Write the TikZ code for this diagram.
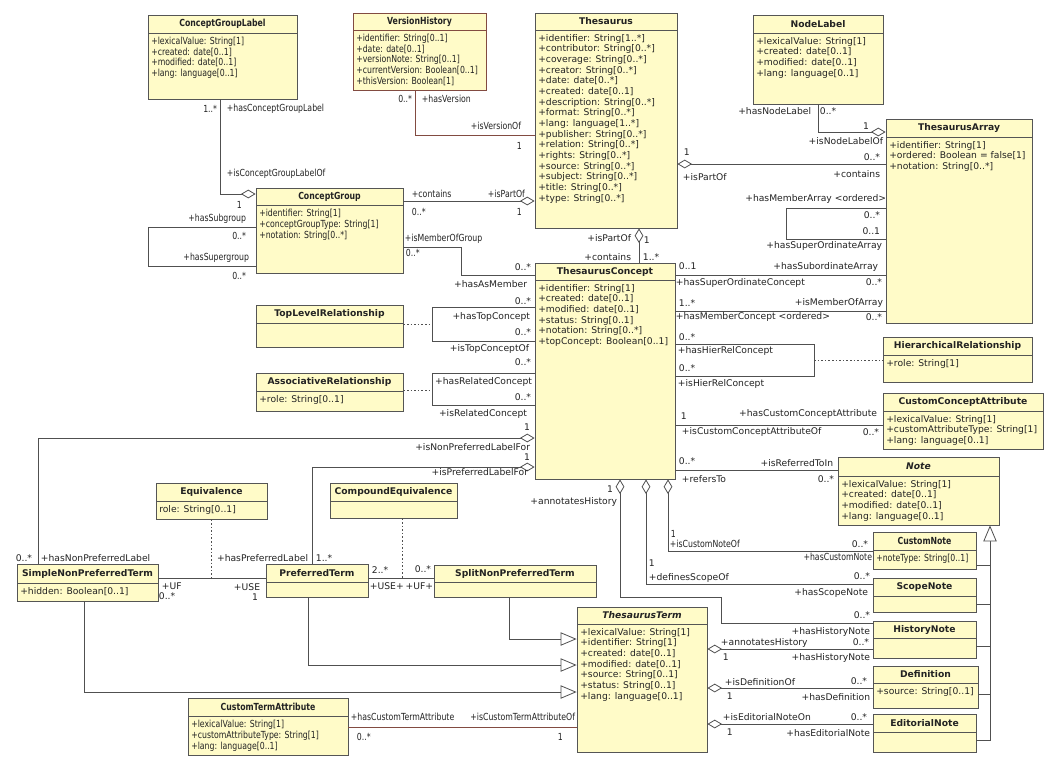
\documentclass[tikz,border=0pt]{standalone}
\usepackage{fontspec}
\setmainfont{DejaVu Sans}
\newfontfamily\cf[FakeStretch=0.8]{DejaVu Sans}
\usetikzlibrary{arrows.meta,fit}
\definecolor{yel}{RGB}{255,251,200}
\definecolor{bord}{RGB}{85,85,85}
\definecolor{brn}{RGB}{130,75,65}
\definecolor{txt}{RGB}{35,35,35}
\definecolor{lin}{RGB}{80,80,80}
\newcounter{lc}
\newcommand\regfonts{\def\ttlfont{\fontsize{6.9}{8}\selectfont\bfseries}\def\attrfont{\fontsize{6.9}{8}\selectfont}}
\newcommand\condfonts{\def\ttlfont{\cf\fontsize{7.3}{8}\selectfont\bfseries}\def\attrfont{\cf\fontsize{7.3}{8}\selectfont}}
\newcommand\umlbox[9]{%
  \node[box,#7,fit={(#2,#3) (#4,#5)}] (#1) {};
  \draw[boxline,#7] (#2,#6) -- (#4,#6);
  \node[ttl] (#1-t) at ({(#2+#4)/2},{(#3+#6)/2}) {#8};
  \node[attr] (#1-a) at ({#2+3},{#6+4}) {#9};
}
\newcommand\labW[3]{\stepcounter{lc}\node[lbl,anchor=west] (l\arabic{lc}) at (#1,#2) {#3};}
\newcommand\labE[3]{\stepcounter{lc}\node[lbl,anchor=east] (l\arabic{lc}) at (#1,#2) {#3};}
\newcommand\clabW[3]{\stepcounter{lc}\node[clbl,anchor=west] (l\arabic{lc}) at (#1,#2) {#3};}
\newcommand\clabE[3]{\stepcounter{lc}\node[clbl,anchor=east] (l\arabic{lc}) at (#1,#2) {#3};}
\begin{document}
\begin{tikzpicture}[x=0.75pt,y=-0.75pt,
  box/.style={draw=bord,fill=yel,line width=0.6pt,inner sep=0pt},
  boxline/.style={draw=bord,line width=0.6pt},
  ttl/.style={font=\ttlfont,text=txt,inner sep=0pt},
  attr/.style={font=\attrfont,text=txt,align=left,anchor=north west,inner sep=0pt},
  lbl/.style={font=\fontsize{6.9}{8}\selectfont,text=txt,inner sep=0.5pt},
  clbl/.style={font=\cf\fontsize{7.3}{8}\selectfont,text=txt,inner sep=0.5pt},
  assoc/.style={draw=lin,line width=0.6pt},
  assocb/.style={draw=brn,line width=0.6pt},
  dep/.style={draw=lin,line width=0.6pt,dash pattern=on 1.2pt off 1.5pt},
  agg/.style={assoc,-{Diamond[length=11pt,width=6.5pt,fill=white]}},
  aggs/.style={assoc,{Diamond[length=11pt,width=6.5pt,fill=white]}-},
  gen/.style={assoc,-{Triangle[length=12pt,width=10pt,fill=white]}}]
\useasboundingbox (0,0) rectangle (1056,764);
\fill[white] (0,0) rectangle (1056,764);
% ---------- classes ----------
\condfonts
\umlbox{cgl}{148}{15}{297}{99}{33}{}{ConceptGroupLabel}{+lexicalValue: String[1]\\+created: date[0..1]\\+modified: date[0..1]\\+lang: language[0..1]}
\umlbox{vh}{353}{13}{486}{90}{30}{draw=brn}{VersionHistory}{+identifier: String[0..1]\\+date: date[0..1]\\+versionNote: String[0..1]\\+currentVersion: Boolean[0..1]\\+thisVersion: Boolean[1]}
\umlbox{cg}{256}{188}{403}{273}{205}{}{ConceptGroup}{+identifier: String[1]\\+conceptGroupType: String[1]\\+notation: String[0..*]}
\umlbox{cta}{188}{698}{348}{755}{716}{}{CustomTermAttribute}{+lexicalValue: String[1]\\+customAttributeType: String[1]\\+lang: language[0..1]}
\umlbox{cn}{873}{532}{976}{569}{550}{}{CustomNote}{+noteType: String[0..1]}
\regfonts
\umlbox{th}{535}{13}{677}{228}{30}{}{Thesaurus}{+identifier: String[1..*]\\+contributor: String[0..*]\\+coverage: String[0..*]\\+creator: String[0..*]\\+date: date[0..*]\\+created: date[0..1]\\+description: String[0..*]\\+format: String[0..*]\\+lang: language[1..*]\\+publisher: String[0..*]\\+relation: String[0..*]\\+rights: String[0..*]\\+source: String[0..*]\\+subject: String[0..*]\\+title: String[0..*]\\+type: String[0..*]}
\umlbox{nl}{753}{15}{883}{104}{33}{}{NodeLabel}{+lexicalValue: String[1]\\+created: date[0..1]\\+modified: date[0..1]\\+lang: language[0..1]}
\umlbox{ta}{886}{119}{1032}{323}{137}{}{ThesaurusArray}{+identifier: String[1]\\+ordered: Boolean = false[1]\\+notation: String[0..*]}
\umlbox{tlr}{256}{305}{403}{347}{323}{}{TopLevelRelationship}{}
\umlbox{ar}{256}{373}{403}{411}{391}{}{AssociativeRelationship}{+role: String[0..1]}
\umlbox{tc}{535}{263}{675}{479}{280}{}{ThesaurusConcept}{+identifier: String[1]\\+created: date[0..1]\\+modified: date[0..1]\\+status: String[0..1]\\+notation: String[0..*]\\+topConcept: Boolean[0..1]}
\umlbox{hr}{883}{337}{1032}{382}{355}{}{HierarchicalRelationship}{+role: String[1]}
\umlbox{cca}{883}{393}{1043}{449}{411}{}{CustomConceptAttribute}{+lexicalValue: String[1]\\+customAttributeType: String[1]\\+lang: language[0..1]}
\umlbox{note}{838}{457}{999}{525}{476}{}{\itshape Note}{+lexicalValue: String[1]\\+created: date[0..1]\\+modified: date[0..1]\\+lang: language[0..1]}
\umlbox{sn}{873}{578}{976}{612}{596}{}{ScopeNote}{}
\umlbox{hn}{873}{621}{976}{658}{638}{}{HistoryNote}{}
\umlbox{def}{873}{666}{978}{708}{683}{}{Definition}{+source: String[0..1]}
\umlbox{en}{873}{714}{976}{752}{732}{}{EditorialNote}{}
\umlbox{tt}{577}{607}{707}{752}{624}{}{\itshape ThesaurusTerm}{+lexicalValue: String[1]\\+identifier: String[1]\\+created: date[0..1]\\+modified: date[0..1]\\+source: String[0..1]\\+status: String[0..1]\\+lang: language[0..1]}
\umlbox{split}{434}{565}{596}{597}{582}{}{SplitNonPreferredTerm}{}
\umlbox{pt}{266}{564}{368}{597}{582}{}{PreferredTerm}{}
\umlbox{snp}{17}{564}{158}{601}{583}{}{SimpleNonPreferredTerm}{+hidden: Boolean[0..1]}
\umlbox{eq}{156}{483}{267}{519}{501}{}{Equivalence}{role: String[0..1]}
\umlbox{ceq}{330}{483}{457}{518}{501}{}{CompoundEquivalence}{}
% ---------- connectors ----------
\draw[agg] (220,0 |- cgl.south) |- (cg.west |- 0,194);
\draw[assoc] (cg.west |- 0,227) -- (148,227) -- (148,266) -- (cg.west |- 0,266);
\draw[assocb] (415,0 |- vh.south) |- (th.west |- 0,135);
\draw[agg] (cg.east |- 0,201) -- (th.west |- 0,201);
\draw[assoc] (cg.east |- 0,247) -- (461,247) -- (461,275) -- (tc.west |- 0,275);
\draw[aggs] (639,0 |- th.south) -- (639,0 |- tc.north);
\draw[aggs] (th.east |- 0,164) -- (ta.west |- 0,164);
\draw[agg] (818,0 |- nl.south) |- (ta.west |- 0,132);
\draw[assoc] (ta.west |- 0,208) -- (786,208) -- (786,239) -- (ta.west |- 0,239);
\draw[assoc] (tc.east |- 0,275) -- (ta.west |- 0,275);
\draw[assoc] (tc.east |- 0,311) -- (ta.west |- 0,311);
\draw[assoc] (tc.east |- 0,344) -- (814,344) -- (814,376) -- (tc.east |- 0,376);
\draw[dep] (814,360) -- (hr.west |- 0,360);
\draw[assoc] (tc.east |- 0,425) -- (cca.west |- 0,425);
\draw[assoc] (tc.east |- 0,470) -- (note.west |- 0,470);
\draw[assoc] (tc.west |- 0,307) -- (432,307) -- (432,341) -- (tc.west |- 0,341);
\draw[dep] (tlr.east |- 0,324) -- (432,324);
\draw[assoc] (tc.west |- 0,373) -- (432,373) -- (432,405) -- (tc.west |- 0,405);
\draw[dep] (ar.east |- 0,390) -- (432,390);
\draw[agg] (38,0 |- snp.north) |- (tc.west |- 0,438);
\draw[agg] (312,0 |- pt.north) |- (tc.west |- 0,467);
\draw[assoc] (snp.east |- 0,578) -- (pt.west |- 0,578);
\draw[dep] (211,0 |- eq.south) -- (211,578);
\draw[assoc] (pt.east |- 0,578) -- (split.west |- 0,578);
\draw[dep] (402,0 |- ceq.south) -- (402,578);
\draw[gen] (509,0 |- split.south) |- (tt.west |- 0,639);
\draw[gen] (308,0 |- pt.south) |- (tt.west |- 0,665);
\draw[gen] (84,0 |- snp.south) |- (tt.west |- 0,692);
\draw[assocb] (cta.east |- 0,727) -- (tt.west |- 0,727);
\draw[aggs] (tt.east |- 0,649) -- (hn.west |- 0,649);
\draw[aggs] (tt.east |- 0,688) -- (def.west |- 0,688);
\draw[aggs] (tt.east |- 0,724) -- (en.west |- 0,724);
\draw[aggs] (620,0 |- tc.south) -- (620,597) -- (721,597) -- (721,623) -- (hn.west |- 0,623);
\draw[aggs] (646,0 |- tc.south) |- (sn.west |- 0,584);
\draw[aggs] (668,0 |- tc.south) |- (cn.west |- 0,551);
\draw[gen] (en.east |- 0,740) -- (990,740) -- (990,0 |- note.south);
\draw[assoc] (cn.east |- 0,565) -- (990,565);
\draw[assoc] (sn.east |- 0,604) -- (990,604);
\draw[assoc] (hn.east |- 0,646) -- (990,646);
\draw[assoc] (def.east |- 0,694) -- (990,694);
% ---------- labels ----------
\clabE{218}{109}{1..*}
\clabW{226}{109}{+hasConceptGroupLabel}
\clabW{226}{174}{+isConceptGroupLabelOf}
\clabW{236}{205}{1}
\clabE{247}{219}{+hasSubgroup}
\clabE{247}{236}{0..*}
\clabE{250}{258}{+hasSupergroup}
\clabE{247}{276}{0..*}
\clabE{413}{99}{0..*}
\clabW{421}{99}{+hasVersion}
\clabE{522}{126}{+isVersionOf}
\clabW{516}{146}{1}
\clabW{411}{194}{+contains}
\clabW{411}{212}{0..*}
\clabW{487}{194}{+isPartOf}
\clabW{516}{212}{1}
\clabW{404}{239}{+isMemberOfGroup}
\clabW{405}{253}{0..*}
\labE{632}{238}{+isPartOf}
\labW{643}{240}{1}
\labE{632}{257}{+contains}
\labW{642}{257}{1..*}
\labW{683}{152}{1}
\labW{682}{177}{+isPartOf}
\labE{812}{111}{+hasNodeLabel}
\labW{819}{111}{0..*}
\labE{870}{126}{1}
\labE{884}{141}{+isNodeLabelOf}
\labE{881}{157}{0..*}
\labE{881}{174}{+contains}
\labE{887}{199}{+hasMemberArray <ordered>}
\labE{881}{215}{0..*}
\labE{881}{231}{0..1}
\labE{883}{246}{+hasSuperOrdinateArray}
\labE{532}{267}{0..*}
\labE{528}{284}{+hasAsMember}
\labE{532}{301}{0..*}
\labE{531}{317}{+hasTopConcept}
\labE{532}{332}{0..*}
\labE{530}{349}{+isTopConceptOf}
\labE{532}{362}{0..*}
\labE{533}{382}{+hasRelatedConcept}
\labE{532}{397}{0..*}
\labE{528}{414}{+isRelatedConcept}
\labE{531}{427}{1}
\labE{531}{447}{+isNonPreferredLabelFor}
\labE{531}{457}{1}
\labE{529}{472}{+isPreferredLabelFor}
\labE{614}{489}{1}
\labE{618}{502}{+annotatesHistory}
\labW{678}{266}{0..1}
\labE{879}{267}{+hasSubordinateArray}
\labW{675}{283}{+hasSuperOrdinateConcept}
\labE{883}{282}{0..*}
\labW{678}{303}{1..*}
\labE{884}{303}{+isMemberOfArray}
\labW{675}{317}{+hasMemberConcept <ordered>}
\labE{883}{317}{0..*}
\labW{678}{337}{0..*}
\labW{677}{351}{+hasHierRelConcept}
\labW{678}{368}{0..*}
\labW{677}{384}{+isHierRelConcept}
\labW{680}{416}{1}
\labE{878}{414}{+hasCustomConceptAttribute}
\labW{681}{432}{+isCustomConceptAttributeOf}
\labE{880}{432}{0..*}
\labW{678}{461}{0..*}
\labE{834}{463}{+isReferredToIn}
\labW{681}{479}{+refersTo}
\labE{835}{479}{0..*}
\clabW{670}{534}{1}
\clabW{669}{544}{+isCustomNoteOf}
\labE{869}{544}{0..*}
\clabE{873}{557}{+hasCustomNote}
\labW{648}{563}{1}
\labW{648}{578}{+definesScopeOf}
\labE{871}{576}{0..*}
\labE{869}{593}{+hasScopeNote}
\labE{871}{615}{0..*}
\labE{871}{632}{+hasHistoryNote}
\labW{720}{643}{+annotatesHistory}
\labW{722}{657}{1}
\labE{870}{642}{0..*}
\labE{871}{658}{+hasHistoryNote}
\labW{724}{682}{+isDefinitionOf}
\labW{726}{696}{1}
\labE{868}{681}{0..*}
\labE{871}{697}{+hasDefinition}
\labW{722}{717}{+isEditorialNoteOn}
\labW{726}{732}{1}
\labE{868}{717}{0..*}
\labE{871}{733}{+hasEditorialNote}
\labE{33}{558}{0..*}
\labW{40}{558}{+hasNonPreferredLabel}
\labW{161}{586}{+UF}
\labW{158}{596}{0..*}
\labE{261}{587}{+USE}
\labE{259}{597}{1}
\labE{309}{558}{+hasPreferredLabel}
\labW{315}{558}{1..*}
\labW{371}{570}{2..*}
\labW{369}{586}{+USE+}
\labE{432}{569}{0..*}
\labE{434}{586}{+UF+}
\clabW{350}{717}{+hasCustomTermAttribute}
\clabW{356}{737}{0..*}
\clabE{576}{717}{+isCustomTermAttributeOf}
\clabW{557}{737}{1}
\end{tikzpicture}
\end{document}
